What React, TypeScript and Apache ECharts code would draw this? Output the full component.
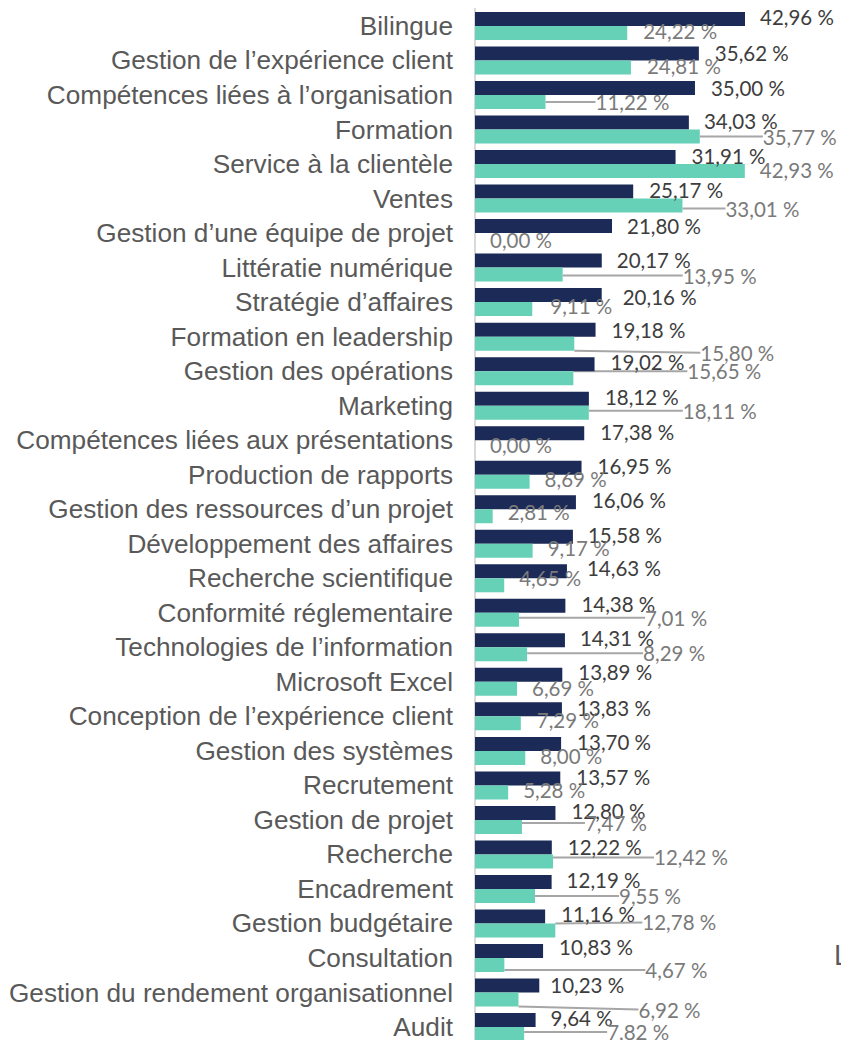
import React, { useEffect, useRef } from "react";
import * as echarts from "echarts";

const categories = [
  "Bilingue",
  "Gestion de l’expérience client",
  "Compétences liées à l’organisation",
  "Formation",
  "Service à la clientèle",
  "Ventes",
  "Gestion d’une équipe de projet",
  "Littératie numérique",
  "Stratégie d’affaires",
  "Formation en leadership",
  "Gestion des opérations",
  "Marketing",
  "Compétences liées aux présentations",
  "Production de rapports",
  "Gestion des ressources d’un projet",
  "Développement des affaires",
  "Recherche scientifique",
  "Conformité réglementaire",
  "Technologies de l’information",
  "Microsoft Excel",
  "Conception de l’expérience client",
  "Gestion des systèmes",
  "Recrutement",
  "Gestion de projet",
  "Recherche",
  "Encadrement",
  "Gestion budgétaire",
  "Consultation",
  "Gestion du rendement organisationnel",
  "Audit",
];

const navyValues = [
  42.96, 35.62, 35.0, 34.03, 31.91, 25.17, 21.8, 20.17, 20.16, 19.18, 19.02, 18.12, 17.38, 16.95, 16.06,
  15.58, 14.63, 14.38, 14.31, 13.89, 13.83, 13.7, 13.57, 12.8, 12.22, 12.19, 11.16, 10.83, 10.23, 9.64,
];

const tealValues = [
  24.22, 24.81, 11.22, 35.77, 42.93, 33.01, 0.0, 13.95, 9.11, 15.8, 15.65, 18.11, 0.0, 8.69, 2.81, 9.17,
  4.65, 7.01, 8.29, 6.69, 7.29, 8.0, 5.28, 7.47, 12.42, 9.55, 12.78, 4.67, 6.92, 7.82,
];

// label nudges (dx, dy) in pixels, as placed in the original
const navyLabelShift = [
  [-1, -1.5], [0, -0.5], [0, -0.5], [-1, -1.5], [0, -1], [0, -1.5], [-1, 0], [-1, -0.5], [5, 2], [0, 0],
  [0, -2], [0, -2], [0, -1], [0, -2], [0, -2], [-1, -2], [4, -3], [0, -2], [-1, -2], [0, -3],
  [-1, -1.5], [0, -2], [0, -1.5], [0, -2], [0, -0.5], [-1, -2], [0, -2.5], [0, -4], [-5, -0.5], [-1, -2],
];
const tealLabelShift = [
  [1, -2], [1, -1], [35, 0], [48, 0], [0, -1], [28, 3], [0, 0], [105, 1], [3, -3], [111, 9],
  [99, -7], [79, -2], [0, -2], [0, -3], [0, -4], [0, -3], [0, -7], [111, -2], [101, -1], [0, -1],
  [1, -3], [0, -2], [0, -2], [48, -4], [86, -4], [69, 0], [72, -8], [126, 5], [105, 10], [68, -2],
];

const fmt = (v: number) => v.toFixed(2).replace(".", ",") + " %";

export default function App() {
  const ref = useRef<HTMLDivElement>(null);
  useEffect(() => {
    document.body.style.margin = "0";
    const chart = echarts.init(ref.current!, null, { renderer: "svg" });
    const pxPerUnit = 6.285;
    const band = 34.52;
    chart.setOption({
      animation: false,
      grid: {
        left: 475,
        top: 8.7,
        width: 60 * pxPerUnit,
        height: categories.length * band,
        outerBoundsMode: "none",
        containLabel: false,
      },
      xAxis: { type: "value", min: 0, max: 60, show: false },
      yAxis: {
        type: "category",
        inverse: true,
        data: categories,
        axisLine: { show: true, lineStyle: { color: "#d9d9d9", width: 2 } },
        axisTick: { show: false },
        axisLabel: {
          interval: 0,
          margin: 22,
          color: "#595959",
          fontFamily: "'Liberation Sans', Arial, sans-serif",
          fontSize: 26.2,
          padding: [0, 0, 6, 0],
        },
      },
      series: [
        {
          type: "bar",
          name: "Série 1",
          data: navyValues,
          barWidth: 14,
          barGap: "0%",
          itemStyle: { color: "#1b2a56" },
          label: {
            show: true,
            position: "right",
            distance: 16,
            formatter: (p: any) => fmt(p.value),
            color: "#3d3d3d",
            fontFamily: "Lato, sans-serif",
            fontSize: 20.5,
          },
          labelLayout: (p: any) => ({ dx: navyLabelShift[p.dataIndex][0], dy: navyLabelShift[p.dataIndex][1] }),
        },
        {
          type: "bar",
          name: "Série 2",
          data: tealValues.map((v, i) => ({ value: v, labelLine: { show: tealLabelShift[i][0] > 20 } })),
          barWidth: 14,
          barGap: "0%",
          itemStyle: { color: "#66d1b7" },
          label: {
            show: true,
            position: "right",
            distance: 15,
            formatter: (p: any) => fmt(p.value),
            color: "#7a7a7a",
            fontFamily: "Lato, sans-serif",
            fontSize: 20.5,
          },
          labelLine: { show: true, lineStyle: { color: "#a6a6a6", width: 2 } },
          labelLayout: (p: any) => ({ dx: tealLabelShift[p.dataIndex][0], dy: tealLabelShift[p.dataIndex][1] }),
        },
      ],
      graphic: [
        {
          type: "text",
          x: 834,
          y: 942,
          style: { text: "L", fill: "#595959", font: "26px Lato, sans-serif" },
        },
      ],
    });
    return () => chart.dispose();
  }, []);
  return <div ref={ref} style={{ width: 841, height: 1040 }} />;
}
